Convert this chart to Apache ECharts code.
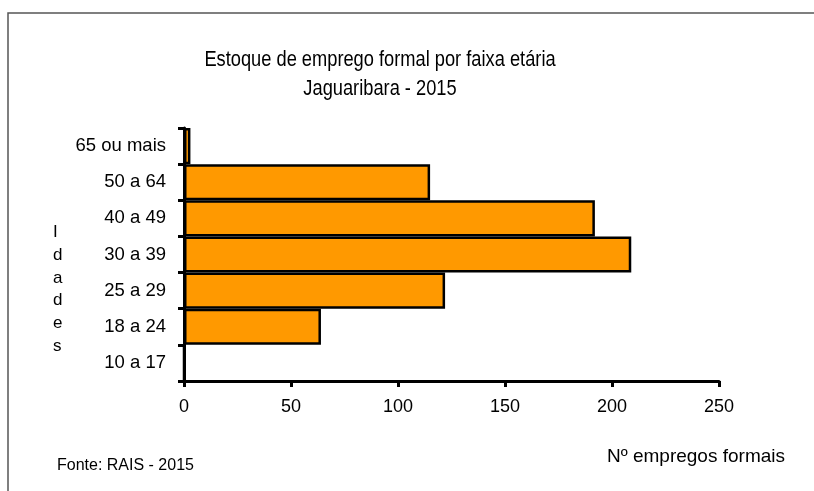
<!DOCTYPE html>
<html>
<head>
<meta charset="utf-8">
<script src="https://cdn.jsdelivr.net/npm/echarts@6/dist/echarts.min.js"></script>
<style>
  html, body { margin: 0; padding: 0; background: #fff; }
  #main { width: 814px; height: 491px; }
</style>
</head>
<body>
<div id="main"></div>
<script>
// faixas etárias (de baixo para cima)
const categories = ['10 a 17', '18 a 24', '25 a 29', '30 a 39', '40 a 49', '50 a 64', '65 ou mais'];
const empregos = [0, 64, 122, 209, 192, 115, 3];
const xTicks = [0, 50, 100, 150, 200, 250];
const titulo = 'Estoque de emprego formal por faixa etária\nJaguaribara - 2015';

const chart = echarts.init(document.getElementById('main'));

const option = {
  animation: false,
  backgroundColor: '#fff',
  grid: {
    left: 184,
    right: 95,
    top: 128,
    bottom: 110,
    containLabel: false
  },
  xAxis: {
    type: 'value',
    min: xTicks[0],
    max: xTicks[xTicks.length - 1],
    interval: 50,
    axisLine: { show: true, lineStyle: { color: '#000', width: 3 } },
    axisTick: { show: true, length: 6, lineStyle: { color: '#000', width: 3 } },
    splitLine: { show: false },
    axisLabel: {
      color: '#000',
      fontFamily: 'Liberation Sans',
      fontSize: 18,
      margin: 17
    }
  },
  yAxis: {
    type: 'category',
    data: categories,
    axisLine: { show: true, lineStyle: { color: '#000', width: 3 } },
    axisTick: { show: true, length: 6, lineStyle: { color: '#000', width: 3 } },
    axisLabel: {
      color: '#000',
      fontFamily: 'Liberation Sans',
      fontSize: 18.5,
      margin: 18
    }
  },
  series: [
    {
      type: 'bar',
      data: empregos,
      barCategoryGap: '0%',
      itemStyle: {
        color: '#FF9900',
        borderColor: '#000',
        borderWidth: 2.5
      }
    }
  ],
  graphic: [
    {
      type: 'rect',
      shape: { x: 8, y: 13, width: 830, height: 520 },
      style: { fill: 'none', stroke: '#555', lineWidth: 1.5 },
      silent: true,
      z: -1
    },
    // título condensado (como no original)
    {
      type: 'text',
      x: 380,
      y: 45,
      scaleX: 0.83,
      style: {
        text: titulo,
        x: 0,
        y: 0,
        align: 'center',
        verticalAlign: 'top',
        fontFamily: 'Liberation Sans',
        fontSize: 22,
        lineHeight: 29,
        fill: '#000'
      }
    },
    {
      type: 'text',
      left: 53,
      top: 221,
      style: {
        text: 'I\nd\na\nd\ne\ns',
        fontFamily: 'Liberation Sans',
        fontSize: 17,
        lineHeight: 22.8,
        fill: '#000',
        align: 'center'
      }
    },
    {
      type: 'text',
      left: 57,
      top: 458,
      style: {
        text: 'Fonte: RAIS - 2015',
        fontFamily: 'Liberation Sans',
        fontSize: 16,
        fill: '#000'
      }
    },
    {
      type: 'text',
      left: 607,
      top: 447,
      style: {
        text: 'Nº empregos formais',
        fontFamily: 'Liberation Sans',
        fontSize: 19,
        fill: '#000'
      }
    }
  ]
};

chart.setOption(option);
</script>
</body>
</html>
